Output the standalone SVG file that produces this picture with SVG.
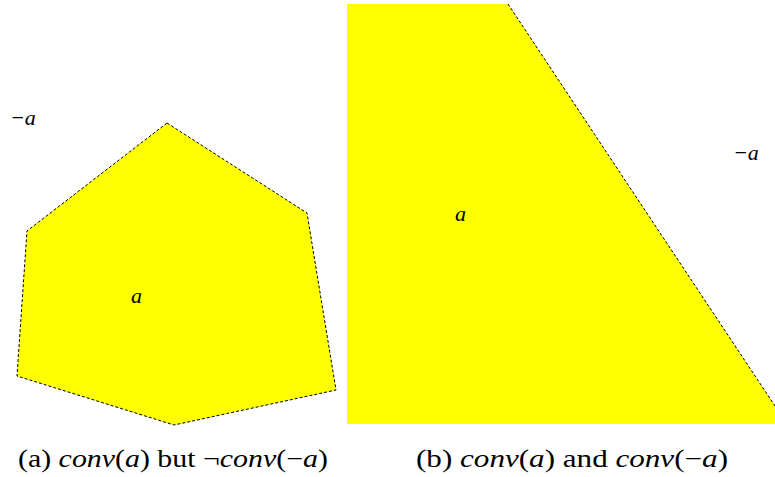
<svg xmlns="http://www.w3.org/2000/svg" width="775" height="477" viewBox="0 0 775 477">
<style>
.reg{fill:#ffff00;stroke:none}
.edge{fill:none;stroke:#000;stroke-width:1;stroke-dasharray:3,2}
.m{font-family:"Liberation Serif","DejaVu Serif",serif;font-style:italic;font-size:22px;fill:#000}
.cap{font-family:"Liberation Serif","DejaVu Serif",serif;font-size:25px;fill:#000}
.ci{font-style:italic}
</style>
<rect width="775" height="477" fill="#fff"/>
<g id="hexagon">
<polygon class="reg" points="167,123 307,213 336,390 174,425 17,376 27,231"/>
<polygon class="edge" points="167,123 307,213 336,390 174,425 17,376 27,231"/>
<text class="m" x="131" y="303">a</text>
</g>
<text id="neg-a-left" class="m" x="10" y="125">−a</text>
<g id="trapezoid">
<polygon class="reg" points="347,4 508,4 775,406 775,424 347,424"/>
<polyline class="edge" points="508,4 775,406"/>
<text class="m" x="455" y="221">a</text>
</g>
<text id="neg-a-right" class="m" x="733" y="160">−a</text>
<text class="cap" x="18" y="467" textLength="310" lengthAdjust="spacingAndGlyphs">(a) <tspan class="ci">conv</tspan>(<tspan class="ci">a</tspan>) but ¬<tspan class="ci">conv</tspan>(−<tspan class="ci">a</tspan>)</text>
<text class="cap" x="416" y="467" textLength="312" lengthAdjust="spacingAndGlyphs">(b) <tspan class="ci">conv</tspan>(<tspan class="ci">a</tspan>) and <tspan class="ci">conv</tspan>(−<tspan class="ci">a</tspan>)</text>
</svg>
